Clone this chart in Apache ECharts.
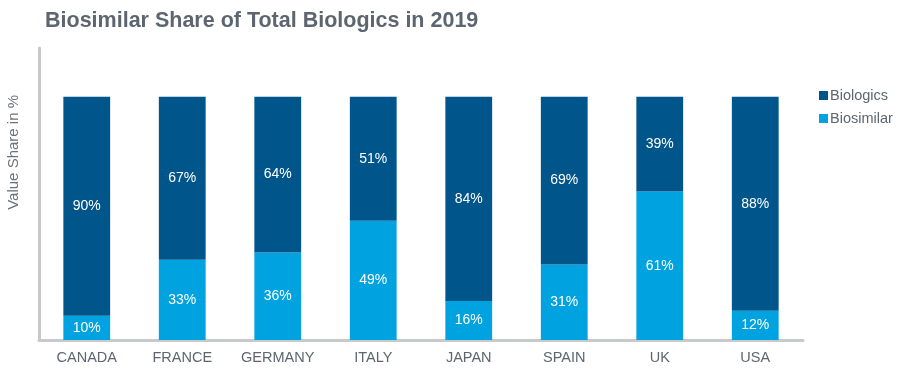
<!DOCTYPE html>
<html><head><meta charset="utf-8">
<script src="https://cdn.jsdelivr.net/npm/echarts@6/dist/echarts.min.js"></script>
<style>html,body{margin:0;padding:0;background:#fff}#c{width:900px;height:379px}</style>
</head><body><div id="c"></div>
<script>
const categories = ['CANADA','FRANCE','GERMANY','ITALY','JAPAN','SPAIN','UK','USA'];
const biosimilar = [10,33,36,49,16,31,61,12];
const biologics = [90,67,64,51,84,69,39,88];
const FF = 'Liberation Sans, Arial, sans-serif';
const chart = echarts.init(document.getElementById('c'));
const lbl = {show:true, position:'inside', color:'#fff', fontSize:14, fontFamily:FF, formatter: p => p.value + '%'};
chart.setOption({
  animation:false,
  title:{text:'Biosimilar Share of Total Biologics in 2019', left:40, top:5,
    textStyle:{fontFamily:FF, fontWeight:'bold', fontSize:21.5, color:'#5d6670'}},
  legend:{orient:'vertical', left:814, top:83, itemWidth:9, itemHeight:9, itemGap:8, icon:'rect',
    data:['Biologics','Biosimilar'],
    textStyle:{fontFamily:FF, fontSize:14.5, color:'#5d6670', padding:[0,0,0,-3]}},
  graphic:[{type:'text', left:6, top:95, rotation:Math.PI/2,
    style:{text:'Value Share in %', fill:'#6b7279', font:'15px ' + FF}}],
  grid:{left:39, right:97, top:48, bottom:39, outerBoundsMode:'none', containLabel:false},
  xAxis:{type:'category', data:categories,
    axisLine:{lineStyle:{color:'#c8c9cb', width:3}}, axisTick:{show:false},
    axisLabel:{interval:0, color:'#5d6670', fontSize:14.5, fontFamily:FF, margin:10}},
  yAxis:{type:'value', min:0, max:120,
    axisLine:{show:true, lineStyle:{color:'#c8c9cb', width:3}}, axisTick:{show:false}, axisLabel:{show:false}, splitLine:{show:false}},
  series:[
    {name:'Biosimilar', type:'bar', stack:'a', data:biosimilar, barWidth:'49%', itemStyle:{color:'#00a3e0'}, label:lbl},
    {name:'Biologics', type:'bar', stack:'a', data:biologics, barWidth:'49%', itemStyle:{color:'#00558a'}, label:lbl}
  ]
});
</script></body></html>
